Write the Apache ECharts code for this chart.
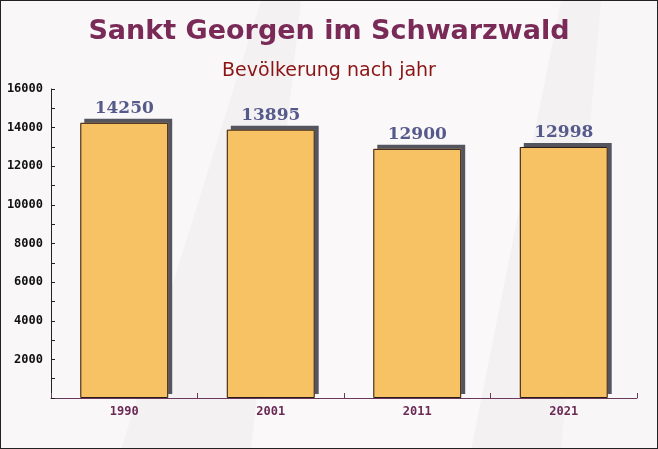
<!DOCTYPE html>
<html>
<head>
<meta charset="utf-8">
<script src="https://cdn.jsdelivr.net/npm/echarts@6/dist/echarts.min.js"></script>
<style>
html,body{margin:0;padding:0;background:#fff;}
#c{width:656px;height:447px;border:1px solid #222;}
</style>
</head>
<body>
<div id="c"></div>
<script>
const titleText = 'Sankt Georgen im Schwarzwald';
const subtitleText = 'Bevölkerung nach jahr';
const categories = ['1990', '2001', '2011', '2021'];
const values = [14250, 13895, 12900, 12998];
const yTicks = [0, 2000, 4000, 6000, 8000, 10000, 12000, 14000, 16000];

const chart = echarts.init(document.getElementById('c'));
chart.setOption({
  backgroundColor: '#f4f1f3',
  animation: false,
  graphic: [
    {type:'polygon', silent:true, z:-10, shape:{points:[[0,0],[260,0],[120,449],[0,449]]}, style:{fill:'rgba(255,255,255,0.45)'}},
    {type:'polygon', silent:true, z:-10, shape:{points:[[300,0],[560,0],[470,449],[250,449]]}, style:{fill:'rgba(255,255,255,0.5)'}},
    {type:'polygon', silent:true, z:-10, shape:{points:[[600,0],[658,0],[658,449],[560,449]]}, style:{fill:'rgba(255,255,255,0.35)'}}
  ],
  title: [
    {text: titleText, left: 'center', top: 12,
     textStyle:{fontFamily:'DejaVu Sans', fontWeight:'bold', fontSize:27, color:'#7a2a57'}},
    {text: subtitleText, left: 'center', top: 56,
     textStyle:{fontFamily:'DejaVu Sans', fontWeight:'normal', fontSize:19, color:'#8b1414'}}
  ],
  grid: {left: 50, right: 20, top: 88, bottom: 50, containLabel: false},
  xAxis: {
    type: 'category',
    data: categories,
    axisLine: {show: true, lineStyle: {color: '#6a3a5c', width: 1}},
    axisTick: {show: true, inside: true, length: 5, lineStyle: {color: '#6a3a5c'}},
    axisLabel: {fontFamily: 'DejaVu Sans Mono', fontWeight: 'bold', fontSize: 12, color: '#6a2a55', margin: 8},
    splitLine: {show: false}
  },
  yAxis: {
    type: 'value',
    min: yTicks[0],
    max: yTicks[yTicks.length - 1],
    interval: 2000,
    axisLine: {show: true, lineStyle: {color: '#222', width: 1}},
    axisTick: {show: true, inside: true, length: 4, lineStyle: {color: '#222'}},
    minorTick: {show: true, splitNumber: 2, length: 4, lineStyle: {color: '#222'}},
    axisLabel: {showMinLabel: false, fontFamily: 'DejaVu Sans Mono', fontWeight: 'bold', fontSize: 12, color: '#111', margin: 8,
      formatter: v => String(v)},
    splitLine: {show: false}
  },
  series: [{
    type: 'bar',
    data: values,
    barWidth: '60%',
    z: 2,
    itemStyle: {
      color: '#f7c263',
      borderWidth: 0,
      shadowColor: 'rgba(85,85,95,1)',
      shadowBlur: 0,
      shadowOffsetX: 4,
      shadowOffsetY: -4
    },
    label: {
      show: true,
      position: 'top',
      distance: 6,
      fontFamily: 'DejaVu Serif',
      fontWeight: 'bold',
      fontSize: 17,
      color: '#555a8a'
    }
  }, {
    type: 'bar',
    data: values,
    barWidth: '60%',
    barGap: '-100%',
    z: 3,
    silent: true,
    itemStyle: {
      color: 'rgba(0,0,0,0)',
      borderColor: '#2a1a1a',
      borderWidth: 1
    }
  }]
});
</script>
</body>
</html>
